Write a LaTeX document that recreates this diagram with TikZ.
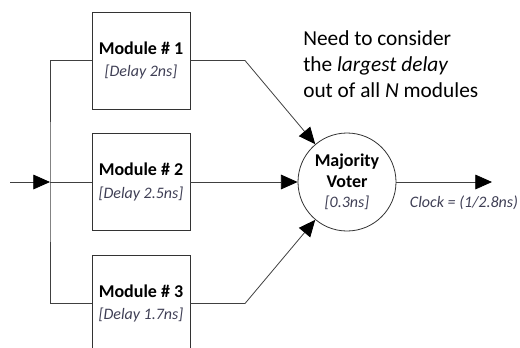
\documentclass[tikz,border=0pt]{standalone}
\usepackage{fontspec}
\setmainfont{Carlito}
\usetikzlibrary{arrows.meta,positioning,calc}
\definecolor{delaytext}{HTML}{3F3F55}
\newcommand{\delayfont}{\fontsize{12}{14}\selectfont\mdseries\itshape\color{delaytext}}

\begin{document}
\begin{tikzpicture}[x=0.75pt, y=-0.75pt,
    module/.style={draw=black!80, line width=0.6pt, minimum width=73.5pt, minimum height=72.75pt, align=center, font=\fontsize{13.5}{17}\selectfont\bfseries},
    voter/.style={circle, draw=black!80, line width=0.6pt, minimum size=73.5pt, inner sep=0pt, align=center, font=\fontsize{13.5}{15.5}\selectfont\bfseries},
    wire/.style={draw=black!75, line width=0.6pt},
    flow/.style={wire, -{Triangle[length=12.5pt,width=11pt,color=black]}}]
    \useasboundingbox (0,0) rectangle (520,347);

    % Redundant modules
    \node[module] (m1) at (141,60.5) {Module \# 1\\{\delayfont [Delay 2ns]}};
    \node[module] (m2) at (141,182) {Module \# 2\\{\delayfont [Delay 2.5ns]}};
    \node[module] (m3) at (141,303.5) {Module \# 3\\{\delayfont [Delay 1.7ns]}};

    % Voter
    \node[voter] (voter) at (347,182) {Majority\\Voter\\{\delayfont [0.3ns]}};

    % Fan-out of the input
    \coordinate (in) at (10,182);
    \coordinate (split) at (50,182);
    \draw[flow] (in) -- (split);
    \draw[wire] (m1.west) -| (split) |- (m3.west);
    \draw[wire] (split) -- (m2.west);

    % Module outputs into voter
    \coordinate (k1) at (245,60.5);
    \coordinate (k3) at (245,303.5);
    \draw[flow] (m1.east) -- (k1) -- (voter);
    \draw[flow] (m2.east) -- (voter.west);
    \draw[flow] (m3.east) -- (k3) -- (voter);

    % Output
    \coordinate (out) at (492,182);
    \draw[flow] (voter.east) -- (out);
    \node[font=\delayfont] (clk) at (464,203) {Clock = (1/2.8ns)};

    % Note
    \node[anchor=north west, align=left, inner sep=0pt, font=\fontsize{16}{19.5}\selectfont] (note) at (303,30)
        {Need to consider\\the \textit{largest delay}\\out of all \textit{N} modules};
\end{tikzpicture}
\end{document}
